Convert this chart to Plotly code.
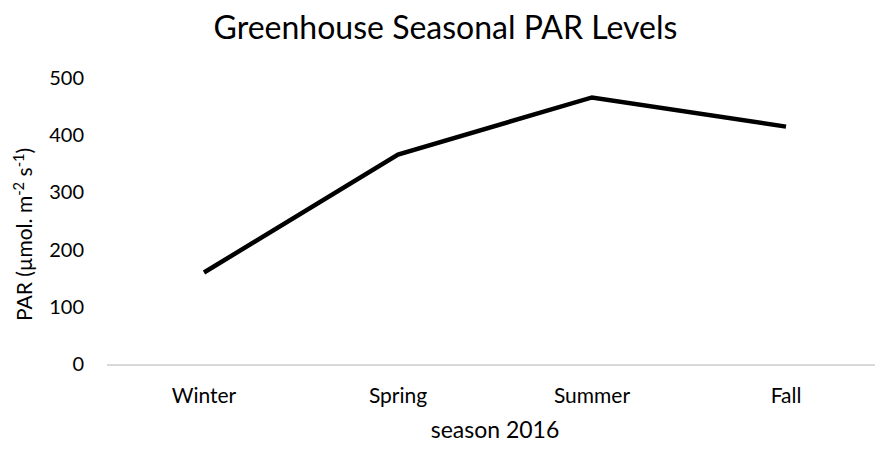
import plotly.graph_objects as go

seasons = ["Winter", "Spring", "Summer", "Fall"]
par_values = [160, 366, 466, 415]
y_ticks = [0, 100, 200, 300, 400, 500]

FONT = "Lato"

fig = go.Figure()
fig.add_trace(go.Scatter(
    x=seasons, y=par_values, mode="lines",
    line=dict(color="#000000", width=4.5),
    hoverinfo="x+y", showlegend=False,
))

W, H = 875, 443
fig.update_layout(
    width=W, height=H,
    paper_bgcolor="white", plot_bgcolor="white",
    margin=dict(l=99, r=0, t=69.5, b=87),
    font=dict(family=FONT, color="#000000", size=20),
    title=dict(text="Greenhouse Seasonal PAR Levels", x=0.5, xanchor="center",
               y=(H - 20) / H, yanchor="middle",
               font=dict(family=FONT, size=32, color="#000000")),
)

fig.update_xaxes(
    type="category", range=[-0.5, 3.5],
    showgrid=False, zeroline=False,
    showline=True, linecolor="#d9d9d9", linewidth=1.5,
    ticks="", ticklabelstandoff=12,
    tickfont=dict(family=FONT, size=21, color="#000000"),
    title=dict(text="season 2016", standoff=16,
               font=dict(family=FONT, size=23, color="#000000")),
)

fig.update_yaxes(
    range=[0, 500], tickvals=y_ticks,
    showgrid=False, zeroline=False, showline=False,
    ticks="", ticklabelstandoff=22,
    tickfont=dict(family=FONT, size=20, color="#000000"),
    title=dict(text="PAR (µmol. m<sup>-2</sup> s<sup>-1</sup>)&nbsp;&nbsp;&nbsp;&nbsp;&nbsp;", standoff=10,
               font=dict(family=FONT, size=21, color="#000000")),
)

fig.write_html("out.html")
